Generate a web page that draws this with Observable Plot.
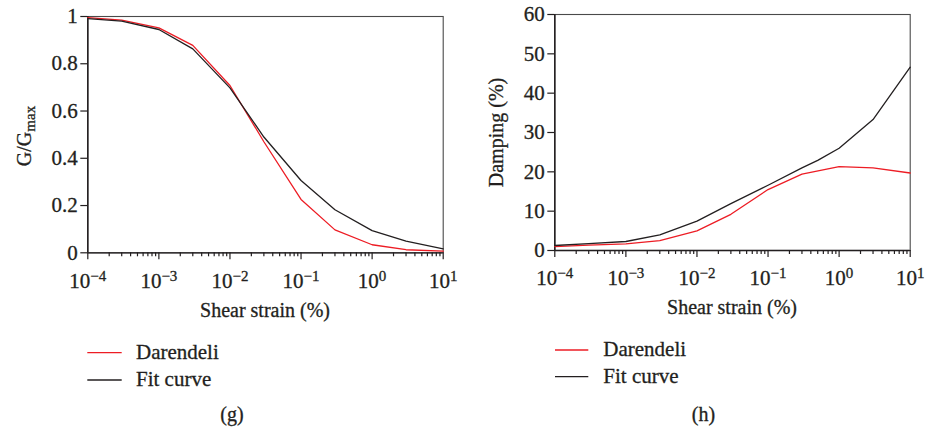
<!DOCTYPE html>
<html>
<head>
<meta charset="utf-8">
<script src="https://cdn.jsdelivr.net/npm/d3@7"></script>
<script src="https://cdn.jsdelivr.net/npm/@observablehq/plot@0.6"></script>
<style>
  body { margin: 0; background: #fff; }
  #fig { position: relative; width: 926px; height: 432px; overflow: hidden; background: #fff; }
  #fig > svg { position: absolute; top: 0; }
  #fig text { stroke: #231f20; stroke-width: 0.3px; }
</style>
</head>
<body>
<div id="fig"></div>
<script>
// Shear strain (%) at which the curves are evaluated
const strain = [1e-4, 3e-4, 1e-3, 3e-3, 1e-2, 3e-2, 1e-1, 3e-1, 1, 3, 10];
const strainDampingFit = [1e-4, 3e-4, 1e-3, 3e-3, 1e-2, 3e-2, 1e-1, 3e-1, 0.5, 1, 3, 10];

// Modulus reduction G/Gmax
const ggmaxDarendeli = [0.995, 0.985, 0.952, 0.878, 0.708, 0.47, 0.226, 0.097, 0.034, 0.013, 0.007];
const ggmaxFit = [0.991, 0.980, 0.945, 0.863, 0.698, 0.49, 0.306, 0.182, 0.094, 0.049, 0.017];

// Damping ratio (%)
const dampingDarendeli = [1.0, 1.35, 1.7, 2.5, 5.0, 9.2, 15.5, 19.4, 21.3, 21.0, 19.7];
const dampingFit = [1.27, 1.75, 2.29, 3.95, 7.45, 11.9, 16.6, 21.0, 22.9, 26.0, 33.3, 46.6];

const seriesNames = ["Darendeli", "Fit curve"];
const seriesColors = ["#ed1c24", "#231f20"];
const decadeExponents = [-4, -3, -2, -1, 0, 1];
const ggmaxTicks = [0, 0.2, 0.4, 0.6, 0.8, 1];
const dampingTicks = [0, 10, 20, 30, 40, 50, 60];
const panelLabels = ["(g)", "(h)"];

const ink = "#231f20";
const font = '"Liberation Serif", "Times New Roman", serif';
const fig = document.getElementById("fig");

function rows(xs, ys) { return xs.map((x, i) => ({x, y: ys[i]})); }

function panel({left, width, height, margin, yDomain, yTicks, curves}) {
  const decades = decadeExponents.map(e => 10 ** e);
  const minor = decades.slice(0, -1).flatMap(d => d3.range(2, 10).map(k => d * k));
  const svg = Plot.plot({
    width, height,
    marginLeft: margin[0], marginRight: margin[1], marginTop: margin[2], marginBottom: margin[3],
    style: {fontFamily: font, fontSize: "21px", color: ink, background: "transparent", overflow: "visible"},
    x: {type: "log", domain: [1e-4, 10], label: null},
    y: {domain: yDomain, label: null},
    marks: [
      Plot.frame({stroke: "#4a4a4a", strokeWidth: 1.1}),
      Plot.axisX({ticks: minor, tickSize: 4, tickFormat: () => "", strokeWidth: 1.2, label: null}),
      Plot.axisX({ticks: decades, tickSize: 7, tickPadding: 13, strokeWidth: 1.2, label: null,
                  tickFormat: d => `10^${Math.round(Math.log10(d))}`}),
      Plot.axisY({ticks: yTicks, tickSize: 7, tickPadding: 3, strokeWidth: 1.2, label: null,
                  tickFormat: d => String(d)}),
      Plot.ruleX([1e-4], {stroke: ink, strokeWidth: 1.5}),
      Plot.ruleY([yDomain[0]], {stroke: ink, strokeWidth: 1.3}),
      ...curves.map(c => Plot.line(rows(c.x, c.y), {x: "x", y: "y", stroke: c.color, strokeWidth: 1.3}))
    ]
  });
  // power-of-ten tick labels with raised exponents
  svg.querySelectorAll("text").forEach(t => {
    const m = /^10\^(-?\d+)$/.exec(t.textContent);
    if (!m) return;
    t.textContent = "";
    const base = document.createElementNS("http://www.w3.org/2000/svg", "tspan");
    base.textContent = "10";
    const exp = document.createElementNS("http://www.w3.org/2000/svg", "tspan");
    exp.textContent = m[1].replace("-", "\u2212");
    exp.setAttribute("font-size", "15");
    exp.setAttribute("dy", "-7");
    t.append(base, exp);
  });
  svg.style.left = left + "px";
  fig.append(svg);
}

panel({
  left: 0, width: 463, height: 330, margin: [87.3, 20.3, 16, 77.7],
  yDomain: [0, 1], yTicks: ggmaxTicks,
  curves: [
    {x: strain, y: ggmaxDarendeli, color: seriesColors[0]},
    {x: strain, y: ggmaxFit, color: seriesColors[1]}
  ]
});

panel({
  left: 463, width: 463, height: 330, margin: [91.3, 16.3, 14, 80],
  yDomain: [0, 60], yTicks: dampingTicks,
  curves: [
    {x: strain, y: dampingDarendeli, color: seriesColors[0]},
    {x: strainDampingFit, y: dampingFit, color: seriesColors[1]}
  ]
});

// Axis titles, legends and panel letters
const over = d3.create("svg")
  .attr("width", 926).attr("height", 432)
  .style("left", "0px")
  .attr("font-family", font).attr("font-size", 20).attr("fill", ink);

over.append("text").attr("x", 265).attr("y", 316.5).attr("text-anchor", "middle").text("Shear strain (%)");
over.append("text").attr("x", 732).attr("y", 313.5).attr("text-anchor", "middle").text("Shear strain (%)");

const gy = over.append("text").attr("transform", "translate(30.5,136) rotate(-90)").attr("text-anchor", "middle");
gy.append("tspan").text("G/G");
gy.append("tspan").attr("font-size", 15).attr("dy", 4).text("max");

over.append("text").attr("transform", "translate(502.5,132.5) rotate(-90)").attr("text-anchor", "middle").text("Damping (%)");

const legends = [
  {x0: 87.3, x1: 121.7, tx: 136, ys: [352.7, 380]},
  {x0: 555, x1: 588.3, tx: 603.3, ys: [350, 376.7]}
];
legends.forEach(L => {
  seriesNames.forEach((name, i) => {
    over.append("line").attr("x1", L.x0).attr("x2", L.x1).attr("y1", L.ys[i]).attr("y2", L.ys[i])
      .attr("stroke", seriesColors[i]).attr("stroke-width", 1.3);
    over.append("text").attr("x", L.tx).attr("y", L.ys[i] + 6).attr("font-size", 21).text(name);
  });
});

over.append("text").attr("x", 232).attr("y", 421).attr("text-anchor", "middle").text(panelLabels[0]);
over.append("text").attr("x", 703.5).attr("y", 420.5).attr("text-anchor", "middle").text(panelLabels[1]);

fig.append(over.node());
</script>
</body>
</html>
